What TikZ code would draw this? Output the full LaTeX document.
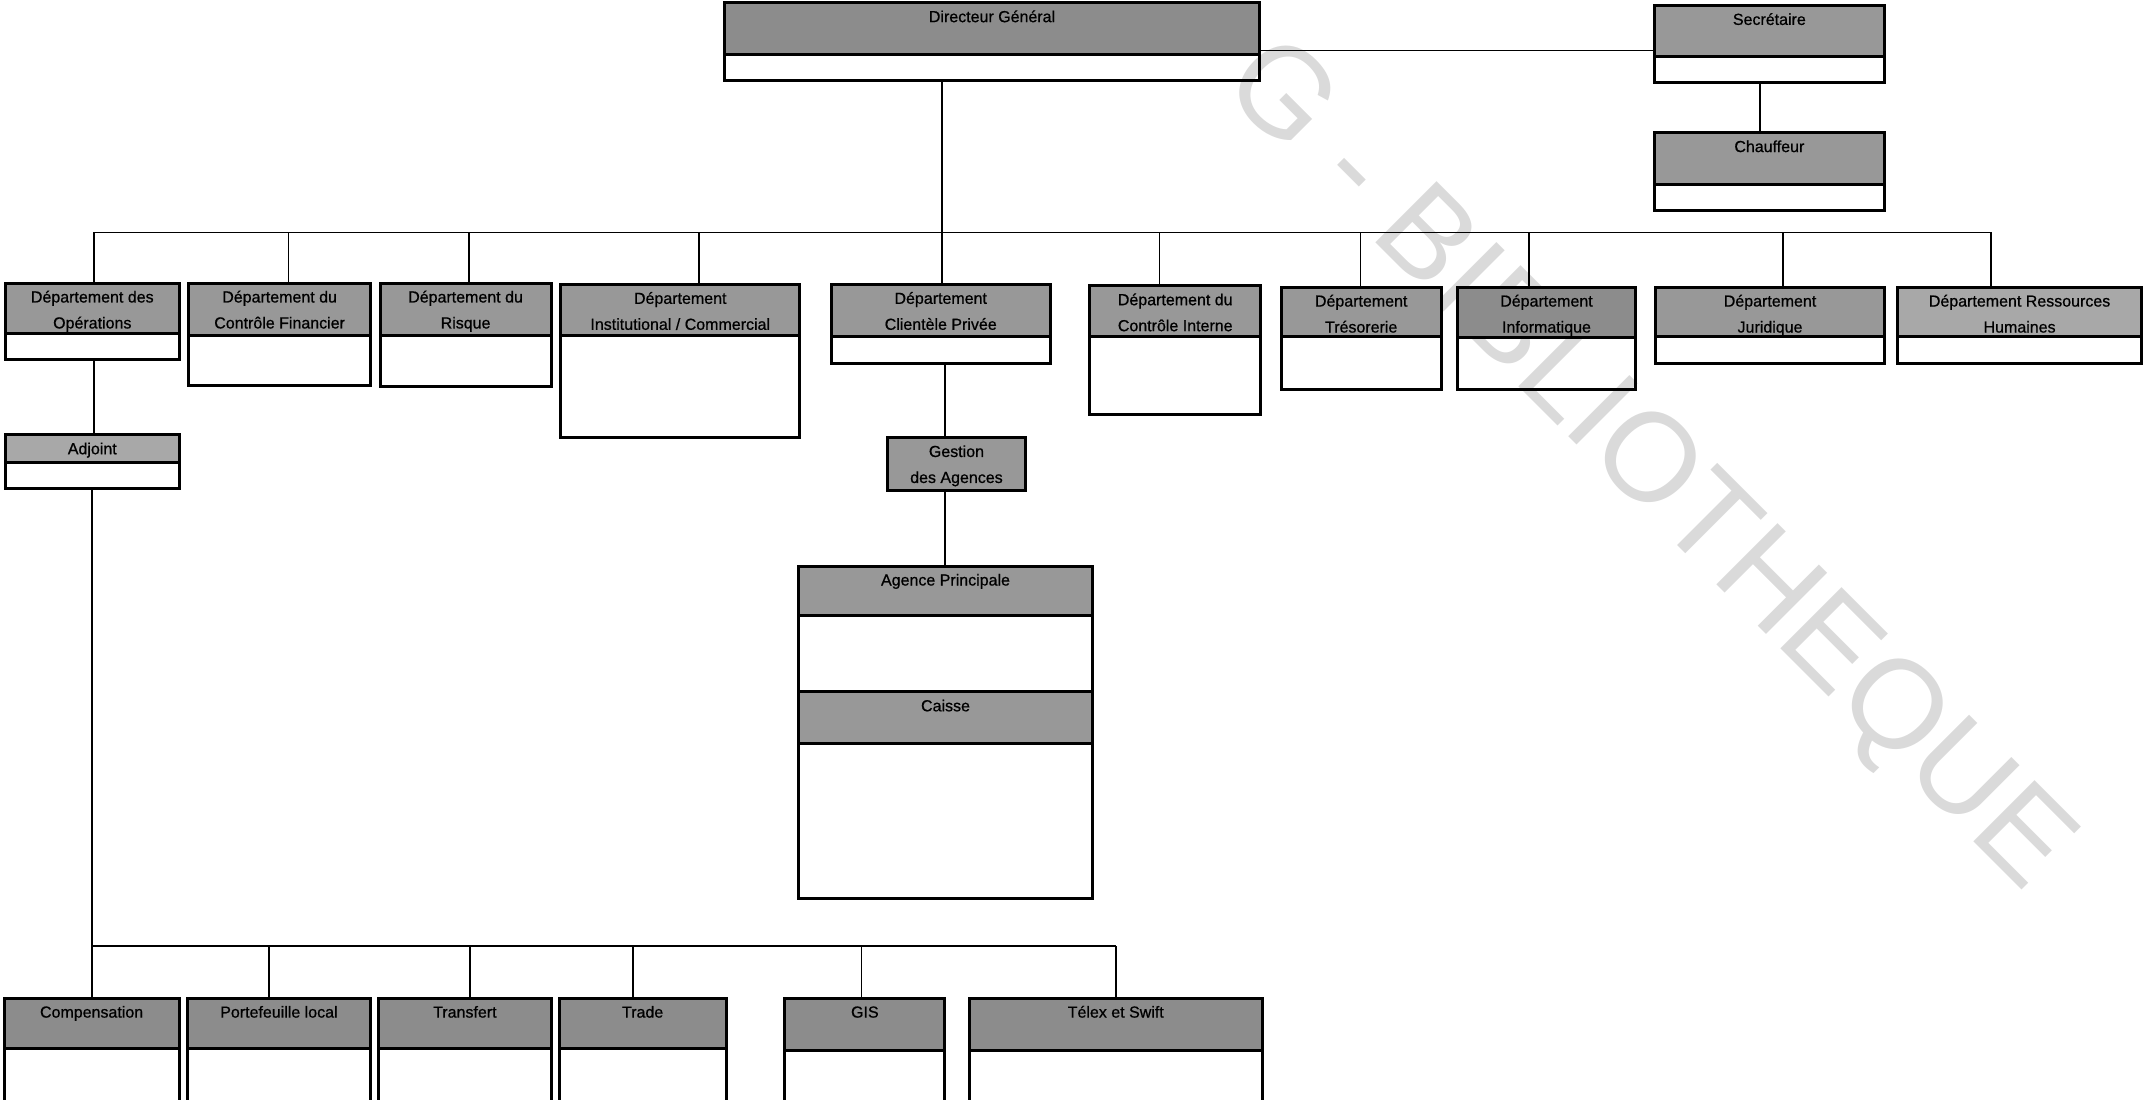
\documentclass[tikz,border=0pt]{standalone}
\usepackage{fontspec}
\setmainfont{Liberation Sans}
\definecolor{bandgrey}{RGB}{152,152,152}
\definecolor{banddark}{RGB}{140,140,140}
\definecolor{bandlight}{RGB}{168,168,168}
\definecolor{wmgrey}{RGB}{218,218,218}
\tikzset{
  boxst/.style={draw=black, line width=2.2pt, inner sep=0pt, outer sep=0pt, rectangle},
  conn/.style={draw=black, line width=1.3pt},
  lbl/.style={font=\fontsize{11.7}{19}\selectfont\addfontfeature{FakeBold=0.7}, align=center, inner sep=0pt, anchor=north},
  wm/.style={text=wmgrey, font=\fontsize{92}{92}\selectfont, rotate=-45, anchor=base west, inner sep=0pt}
}
% name, x1, y1, x2, y2, band bottom, colour, text
\newcommand\orgbox[8]{%
  \fill[#7] (#2,#3) rectangle (#4,#6);
  \node[boxst, anchor=north west, minimum width={(#4-#2)*1pt}, minimum height={(#5-#3)*1pt}] (#1) at (#2,#3) {};
  \draw[line width=2.2pt] (#2,#6) -- (#4,#6);
  \node[lbl] (#1-t) at ({(#2+#4)/2},{#3+0.7}) {\strut #8};
}
\begin{document}
\begin{tikzpicture}[x=1pt,y=-1pt]
\useasboundingbox (0,0) rectangle (1568,804);
\clip (0,0) rectangle (1568,804);
% watermark
\node[wm] (watermark) at (892,64) {G - BIBLIOTHEQUE};
% top
\orgbox{dg}{530}{2}{921}{59}{40}{banddark}{Directeur Général}
\orgbox{sec}{1210}{4}{1378}{60}{41}{bandgrey}{Secrétaire}
\orgbox{ch}{1210}{97}{1378}{154}{135}{bandgrey}{Chauffeur}
% departments
\orgbox{ops}{4}{207}{131}{263}{244}{bandgrey}{Département des\\Opérations}
\orgbox{cf}{138}{207}{271}{282}{245}{bandgrey}{Département du\\Contrôle Financier}
\orgbox{risk}{278}{207}{403}{283}{245}{bandgrey}{Département du\\Risque}
\orgbox{inst}{410}{208}{585}{320}{245}{bandgrey}{Département\\Institutional / Commercial}
\orgbox{cp}{608}{208}{768}{266}{246}{bandgrey}{Département\\Clientèle Privée}
\orgbox{ci}{797}{209}{922}{303}{246}{bandgrey}{Département du\\Contrôle Interne}
\orgbox{tres}{937}{210}{1054}{285}{246}{bandgrey}{Département\\Trésorerie}
\orgbox{info}{1066}{210}{1196}{285}{247}{banddark}{Département\\Informatique}
\orgbox{jur}{1211}{210}{1378}{266}{246}{bandgrey}{Département\\Juridique}
\orgbox{rh}{1388}{210}{1566}{266}{246}{bandlight}{Département Ressources\\Humaines}
% second level
\orgbox{adj}{4}{318}{131}{357}{338}{bandlight}{Adjoint}
\orgbox{gest}{649}{320}{750}{359}{359}{bandgrey}{Gestion\\des Agences}
\fill[bandgrey] (584,506) rectangle (799,544);
\orgbox{ap}{584}{414}{799}{657}{450}{bandgrey}{Agence Principale}
\draw[line width=2.2pt] (584,506) -- (799,506);
\draw[line width=2.2pt] (584,544) -- (799,544);
\node[lbl] (caisse) at ({(584+799)/2},506.7) {\strut Caisse};
% bottom row
\orgbox{comp}{3}{730}{131}{806}{767}{banddark}{Compensation}
\orgbox{port}{137}{730}{271}{806}{767}{banddark}{Portefeuille local}
\orgbox{transf}{277}{730}{403}{806}{767}{banddark}{Transfert}
\orgbox{trade}{409}{730}{531}{806}{767}{banddark}{Trade}
\orgbox{gis}{574}{730}{691}{806}{768}{banddark}{GIS}
\orgbox{telex}{709}{730}{923}{806}{768}{banddark}{Télex et Swift}
% connectors: main bus
\coordinate (bL) at (69,170);
\coordinate (bR) at (1456,170);
\draw[conn] (bL) -- (bR);
\foreach \n/\x in {ops/69,cf/211,risk/343,inst/511,cp/689,ci/848,tres/995,info/1118,jur/1304,rh/1456}{
  \coordinate (bus-\n) at (\x,170);
  \draw[conn] (bus-\n) -- (bus-\n |- \n.north);
}
\draw[conn] (bus-cp |- dg.south) -- (bus-cp);
% director to secretary, secretary to chauffeur
\coordinate (dsec) at (921,37);
\draw[conn] (dsec -| dg.east) -- (dsec -| sec.west);
\coordinate (sch) at (1287,80);
\draw[conn] (sch |- sec.south) -- (sch |- ch.north);
% operations to adjoint and bottom bus
\coordinate (oa) at (69,290);
\draw[conn] (oa |- ops.south) -- (oa |- adj.north);
\coordinate (b2L) at (67,692);
\coordinate (b2R) at (816,692);
\draw[conn] (b2L |- adj.south) -- (b2L) -- (b2R);
\foreach \n/\x in {comp/67,port/197,transf/344,trade/463,gis/630,telex/816}{
  \coordinate (bus2-\n) at (\x,692);
  \draw[conn] (bus2-\n) -- (bus2-\n |- \n.north);
}
% clientele privee chain
\coordinate (cg) at (691,300);
\draw[conn] (cg |- cp.south) -- (cg |- gest.north);
\draw[conn] (cg |- gest.south) -- (cg |- ap.north);
\end{tikzpicture}
\end{document}
